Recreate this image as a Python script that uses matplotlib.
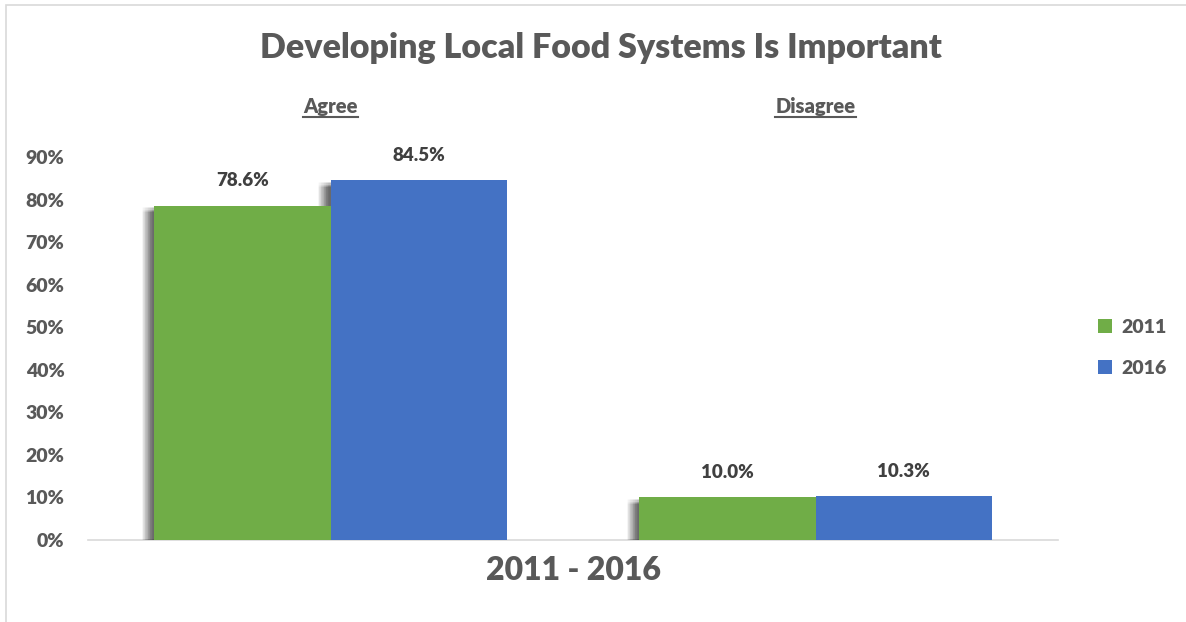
import numpy as np
import matplotlib
matplotlib.use('Agg')
import matplotlib.pyplot as plt
from matplotlib import patheffects
from matplotlib.patches import Patch, Rectangle
from matplotlib.lines import Line2D

plt.rcParams['font.family'] = ['Lato', 'DejaVu Sans']
BOLD = 800

# survey answers, share of respondents (%)
categories = ['Agree', 'Disagree']
years = ['2011', '2016']
values_2011 = [78.6, 10.0]
values_2016 = [84.5, 10.3]
yticks = [0, 10, 20, 30, 40, 50, 60, 70, 80, 90]

W, H = 1186, 622
GREEN = '#70AD47'
BLUE = '#4472C4'
GREY_TXT = '#595959'
DARK_TXT = '#404040'


def px(x, y):
    # pixel position measured from the top-left corner -> figure fraction
    return x / W, 1 - y / H


fig = plt.figure(figsize=(W / 100, H / 100), dpi=100)
fig.patch.set_facecolor('white')

# thin frame around the chart area
fig.patches.append(Rectangle(px(6, 630), (W + 10) / W, 625 / H, transform=fig.transFigure,
                             fill=False, edgecolor='#D9D9D9', linewidth=1.2))

l, b = px(88, 540)
r, t = px(1058, 157)
ax = fig.add_axes([l, b, r - l, t - b])

x = np.arange(len(categories))
w = 0.363
series = [(values_2011, GREEN), (values_2016, BLUE)]

# soft drop shadow: many faint copies shifted down-left, under every bar
shadow_fx = []
for dx in np.linspace(-1.0, -9.0, 17):
    for dy in np.linspace(-1.0, -5.0, 5):
        shadow_fx.append(patheffects.SimplePatchShadow(offset=(dx, dy), shadow_rgbFace='black', alpha=0.008))

for i, (vals, col) in enumerate(series):
    pos = x + (i - 0.5) * w
    ax.bar(pos, vals, w, facecolor='none', linewidth=0, zorder=1, path_effects=shadow_fx)

for i, (vals, col) in enumerate(series):
    pos = x + (i - 0.5) * w
    ax.bar(pos, vals, w, color=col, linewidth=0, zorder=3)
    for xp, v in zip(pos, vals):
        ax.annotate(f'{v:.1f}%', (xp, v), xytext=(0, 12), textcoords='offset points',
                    ha='center', va='bottom', fontsize=13.5, color=DARK_TXT, fontweight=BOLD)

ax.set_xlim(-0.5, len(categories) - 0.5)
ax.set_ylim(0, 90)
ax.set_yticks(yticks)
ax.set_yticklabels([f'{v}%' for v in yticks], fontweight=BOLD)
ax.set_xticks([])
ax.tick_params(axis='y', length=0, pad=17, labelsize=14, labelcolor=GREY_TXT)
for s in ('left', 'right', 'top'):
    ax.spines[s].set_visible(False)
ax.spines['bottom'].set_color('#D9D9D9')
ax.spines['bottom'].set_linewidth(1.2)
ax.spines['bottom'].set_zorder(0.5)

fig.text(*px(601, 48), 'Developing Local Food Systems Is Important', ha='center', va='center',
         fontsize=24.5, color=GREY_TXT, fontweight=BOLD)
fig.text(*px(573, 570), '2011 - 2016', ha='center', va='center',
         fontsize=23, color=GREY_TXT, fontweight=BOLD)

# underlined group headings above each pair of bars
heads = []
for i, cat in enumerate(categories):
    cx = ax.transData.transform((x[i], 0))[0]
    heads.append(fig.text(cx / W, 1 - 106 / H, cat, ha='center', va='center',
                          fontsize=14.5, color=GREY_TXT, fontweight=BOLD))
fig.canvas.draw()
rend = fig.canvas.get_renderer()
for h in heads:
    bb = h.get_window_extent(rend)
    fig.lines.append(Line2D([bb.x0 / W, bb.x1 / W], [(bb.y0 - 1) / H] * 2,
                            transform=fig.transFigure, color=GREY_TXT, linewidth=1.5))

handles = [Patch(facecolor=GREEN, label=years[0]), Patch(facecolor=BLUE, label=years[1])]
fig.legend(handles=handles, loc='center left', bbox_to_anchor=px(1080, 348), frameon=False,
           handlelength=0.75, handleheight=0.75, handletextpad=0.5, labelspacing=1.25,
           prop={'size': 14, 'weight': BOLD}, labelcolor=GREY_TXT)

fig.savefig('out.png', dpi=100, facecolor='white')
